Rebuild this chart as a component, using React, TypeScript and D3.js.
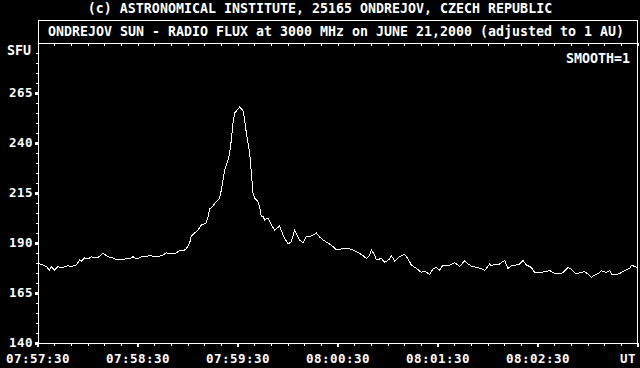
import React from "react";
import * as d3 from "d3";

// seconds after 07:57:30 UT
const times = [
  0, 3, 5, 7, 8, 10, 12, 14, 16, 18, 20, 23, 25, 26, 28, 30, 32, 34, 36, 39, 41, 43, 45, 47, 49, 51, 53, 55, 57, 59,
  61, 63, 65, 67, 70, 73, 75, 77, 79, 81, 82, 84, 86, 88, 89, 91, 92, 94, 96, 98, 101, 102, 103, 105, 107, 109, 110, 111, 112, 114, 115, 116, 117, 118, 120, 121,
  123, 124, 125, 127, 128, 129, 130, 132, 133, 134, 135, 136, 138, 140, 142, 145, 147, 150, 152, 154, 157, 159, 161, 164, 167, 169, 171, 175, 177, 179,
  182, 186, 189, 191, 194, 197, 199, 200, 202, 203, 206, 208, 211, 212, 214, 217, 220, 222, 224, 227, 230, 232, 235, 237, 239, 241,
  243, 247, 250, 252, 253, 256, 258, 260, 263, 266, 268, 271, 272, 274, 276, 278, 280, 282, 284, 287, 289, 291, 293, 296, 298, 301,
  304, 307, 310, 313, 315, 318, 320, 323, 325, 328, 330, 332, 334, 337, 338, 341, 343, 344, 347, 350, 352, 355, 356, 358, 360,
];

// radio flux, SFU
const flux = [
  179.8, 179, 178.2, 176.5, 178, 176.5, 178.2, 177.5, 178.2, 178.7, 178.2, 179, 181.5, 181, 182.5, 182, 183.2, 182.5, 182.7, 184.9, 183.7, 182.7, 182.5, 181.5, 182, 181.5, 182.5, 182, 183.2, 182,
  182.7, 183.5, 183, 184, 183, 183.5, 184, 185.2, 184.5, 185, 184.5, 185.7, 186.5, 186.5, 187.2, 190, 193.5, 195, 196.5, 199, 200, 203.2, 207, 208.5, 210.7, 212.5, 216.5, 221.5, 226.5, 231.5, 235, 241.5, 250, 255, 257, 258,
  256.2, 251.5, 245, 235, 225, 215, 212.5, 210.7, 208.2, 203.2, 203.5, 201.5, 202.5, 199, 196.5, 198.5, 194, 189.5, 190.7, 196.5, 191.5, 190, 193.2, 193.5, 195, 193, 191.5, 189.5, 188.2, 186.5,
  187, 187.3, 186.5, 185.7, 184.3, 182.3, 183.7, 186.5, 184, 181.5, 182.3, 180.3, 182, 183.7, 181, 183.2, 184.3, 182, 179, 177.3, 175.3, 176, 174.3, 177, 177.7, 176.5,
  179, 179, 180.2, 179, 178.2, 181.2, 179.5, 178.5, 177.8, 177.3, 176.2, 179.5, 178.5, 179.5, 179, 180.2, 181.2, 177.3, 178.5, 179, 179.5, 181.2, 179, 177.8, 175.2, 175.2,
  175.7, 176.2, 174.8, 174.5, 175.2, 177.8, 176.8, 174.5, 175.2, 175.7, 174.5, 172.8, 174, 175.2, 176.2, 175.2, 176.2, 174.5, 174, 175.2, 176.2, 177.3, 179, 178.2, 177.8,
];

const xTickSeconds = [0, 60, 120, 180, 240, 300];
const xTickLabels = ["07:57:30", "07:58:30", "07:59:30", "08:00:30", "08:01:30", "08:02:30"];
const yTicks = [140, 165, 190, 215, 240, 265];

const headerText = "(c) ASTRONOMICAL INSTITUTE, 25165 ONDREJOV, CZECH REPUBLIC";
const titleText = "ONDREJOV SUN - RADIO FLUX at 3000 MHz on JUNE 21,2000 (adjusted to 1 AU)";

const W = 640;
const H = 368;
const L = 38;
const R = 638;
const T = 43;
const B = 343;
const FONT = "'DejaVu Sans Mono', 'Liberation Mono', monospace";

export default function App() {
  const x = d3.scaleLinear().domain([0, 360]).range([L, R]);
  const y = d3.scaleLinear().domain([140, 290]).range([B, T]);
  const pts = times.map((t, i) => [t, flux[i]] as [number, number]);
  const line = d3
    .line<[number, number]>()
    .x((d) => x(d[0]))
    .y((d) => y(d[1]));

  const minorX = d3.range(0, 361, 10);
  const minorY = d3.range(145, 290, 5);

  const txt = {
    fill: "#fff",
    fontFamily: FONT,
    fontSize: 13.3,
    fontWeight: "bold" as const,
  };
  const small = {
    fill: "#fff",
    fontFamily: FONT,
    fontSize: 12.5,
    fontWeight: "bold" as const,
    letterSpacing: 0.5,
  };

  return (
    <div style={{ position: "fixed", left: 0, top: 0, width: W, height: H, background: "#000" }}>
      <svg width={W} height={H} style={{ display: "block" }}>
        <rect x={0} y={0} width={W} height={H} fill="#000" />
        <text x={320} y={13} textAnchor="middle" {...txt}>
          {headerText}
        </text>
        {/* title box */}
        <rect x={L + 0.5} y={20.5} width={R - L - 1} height={T - 20} fill="none" stroke="#fff" strokeWidth={1} shapeRendering="crispEdges" />
        <text x={48} y={36} {...txt} textLength={576} lengthAdjust="spacingAndGlyphs">
          {titleText}
        </text>
        {/* plot frame */}
        <rect x={L + 0.5} y={T + 0.5} width={R - L - 1} height={B - T} fill="none" stroke="#fff" strokeWidth={1} shapeRendering="crispEdges" />
        {/* top ticks */}
        {minorX.map((s) => (
          <line key={"tt" + s} x1={x(s)} x2={x(s)} y1={T} y2={T + 3} stroke="#fff" shapeRendering="crispEdges" />
        ))}
        {/* bottom ticks */}
        {minorX.map((s) => (
          <line
            key={"bt" + s}
            x1={x(s)}
            x2={x(s)}
            y1={B}
            y2={B + (s % 60 === 0 ? 4 : 3)}
            stroke="#fff"
            strokeWidth={s % 60 === 0 ? 2 : 1}
            shapeRendering="crispEdges"
          />
        ))}
        {xTickSeconds.map((s, i) => (
          <text key={"xl" + s} x={x(s)} y={363} textAnchor="middle" {...small}>
            {xTickLabels[i]}
          </text>
        ))}
        <text x={636} y={363} textAnchor="end" {...small}>
          UT
        </text>
        {/* y minor ticks */}
        {minorY.map((v) => (
          <line key={"ym" + v} x1={L - 2} x2={L} y1={y(v)} y2={y(v)} stroke="#fff" shapeRendering="crispEdges" />
        ))}
        {yTicks.map((v) => (
          <g key={"yt" + v}>
            <rect x={L - 3} y={y(v) - 1} width={3} height={3} fill="#fff" shapeRendering="crispEdges" />
            <text x={33} y={y(v) + 4} textAnchor="end" {...small}>
              {v}
            </text>
          </g>
        ))}
        <text x={31} y={55} textAnchor="end" {...txt}>
          SFU
        </text>
        <text x={630} y={63} textAnchor="end" {...txt}>
          SMOOTH=1
        </text>
        <path d={line(pts) ?? ""} fill="none" stroke="#fff" strokeWidth={1} shapeRendering="crispEdges" />
      </svg>
    </div>
  );
}
